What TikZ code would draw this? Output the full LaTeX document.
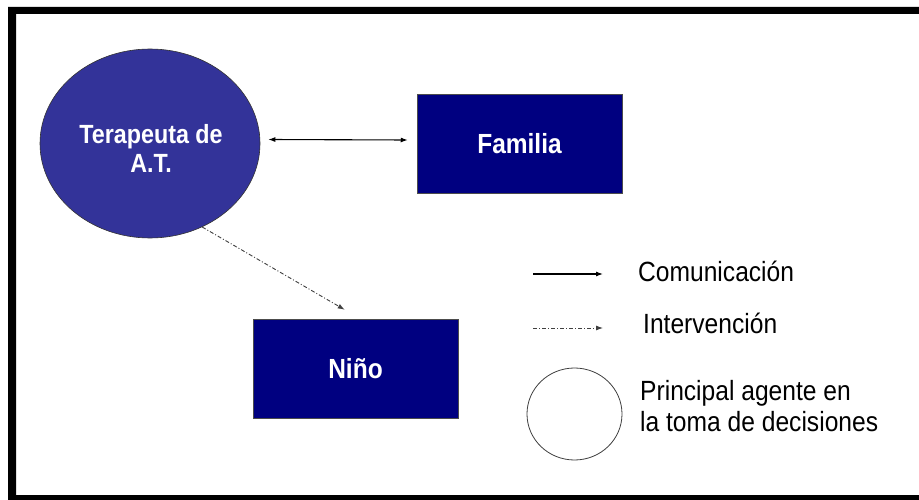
\documentclass[tikz,border=0pt]{standalone}
\usepackage{fontspec}
\setmainfont{Liberation Sans}
\usetikzlibrary{shapes.geometric,arrows.meta}
\definecolor{agentblue}{RGB}{51,51,153}
\definecolor{boxnavy}{RGB}{0,0,128}
% slightly tall lettering, as set on the slide
\newcommand{\tallbox}[1]{\scalebox{1}[1.13]{#1}}
\begin{document}
\begin{tikzpicture}[x=1pt,y=-1pt,
  tip/.style={-{Latex[length=7pt,width=5pt]}},
  bitip/.style={{Latex[length=7pt,width=5pt]}-{Latex[length=7pt,width=5pt]}},
  comm/.style={black,line width=1.1pt},
  interv/.style={black!75,line width=0.9pt,dash pattern=on 4pt off 2pt on 1pt off 2pt},
  agent/.style={ellipse,draw=black!80,line width=0.6pt,fill=agentblue,
    minimum width=220pt,minimum height=189pt,inner sep=0pt},
  party/.style={rectangle,draw=black!70,line width=0.5pt,fill=boxnavy,text=white,
    font=\bfseries\fontsize{24.5}{28}\selectfont,
    minimum width=205pt,minimum height=99pt,inner sep=0pt},
  legendtext/.style={anchor=base west,inner sep=0pt,
    font=\fontsize{24.6}{27.5}\selectfont}]
  % canvas and frame (open on the right)
  \useasboundingbox (0,0) rectangle (919,500);
  \fill[white] (0,0) rectangle (919,500);
  \fill[black,even odd rule] (8,7) rectangle (919,500) (16,14) rectangle (919,495);

  % main actors
  \node[agent] (ell) at (150,143.5) {};
  \node[text=white,inner sep=0pt,anchor=base,
    font=\bfseries\fontsize{23.3}{25}\selectfont] (elltxt) at (151,144)
    {\tallbox{\begin{tabular}[t]{@{}c@{}}Terapeuta de\\A.T.\end{tabular}}};
  \node[party] (fam) at (519.5,144) {\tallbox{Familia}};
  \node[party] (nino) at (355.5,368.5) {\tallbox{Niño}};

  % relations
  \draw[comm,bitip]
    ([xshift=8pt,yshift=4pt]ell.east) -- ([xshift=-9pt,yshift=4pt]fam.west);
  \draw[interv,tip] (ell.-58) -- ([shift={(92pt,9pt)}]nino.north west);

  % legend
  \coordinate (c1) at (533,274);
  \coordinate (c2) at (603,274);
  \coordinate (i1) at (533,328);
  \coordinate (i2) at (603,328);
  \draw[comm,tip] (c1) -- (c2);
  \draw[interv,tip] (i1) -- (i2);
  \node[legendtext] (lc) at (638,281) {\tallbox{Comunicación}};
  \node[legendtext] (li) at (643,333) {\tallbox{Intervención}};
  \node[ellipse,draw=black!75,line width=0.8pt,minimum width=95pt,
    minimum height=92pt,inner sep=0pt] (lcirc) at (574.5,414) {};
  \node[legendtext] (la) at (640,400)
    {\tallbox{\begin{tabular}[t]{@{}l@{}}Principal agente en\\la toma de decisiones\end{tabular}}};
\end{tikzpicture}
\end{document}
